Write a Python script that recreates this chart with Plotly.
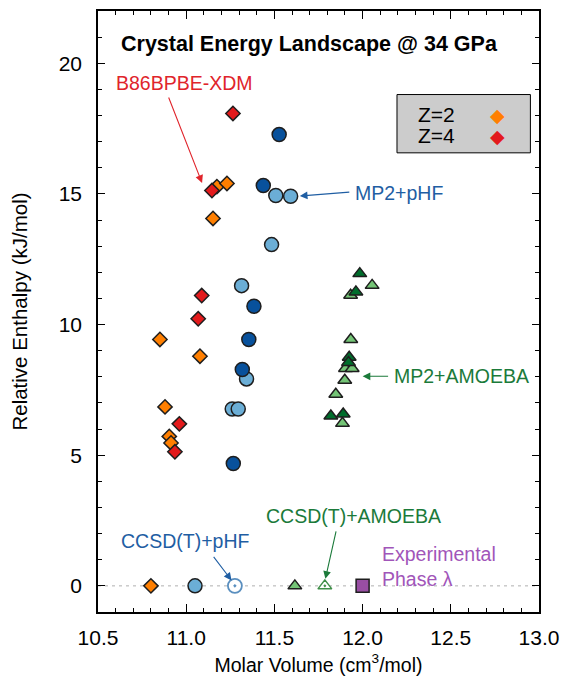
import plotly.graph_objects as go

# ---- B86BPBE-XDM (diamonds) ----
xdm_z2_vol = [10.80, 10.851, 11.078, 10.880, 10.904, 10.914, 11.152, 11.174, 11.231]
xdm_z2_h = [0.0, 9.43, 8.79, 6.85, 5.72, 5.47, 14.06, 15.28, 15.40]
xdm_z4_vol = [11.146, 11.265, 11.088, 11.068, 10.961, 10.936]
xdm_z4_h = [15.13, 18.08, 11.11, 10.22, 6.20, 5.13]

# ---- MP2+pHF (circles) ----
pHF_z4_vol = [11.527, 11.437, 11.384, 11.355, 11.318, 11.267]
pHF_z4_h = [17.27, 15.32, 10.70, 9.43, 8.28, 4.68]
pHF_z2_vol = [11.508, 11.592, 11.484, 11.314, 11.342, 11.261, 11.295, 11.050]
pHF_z2_h = [14.94, 14.91, 13.06, 11.49, 7.92, 6.77, 6.77, 0.0]

# ---- MP2+AMOEBA (triangles) ----
amo_z4_vol = [11.984, 11.962, 11.924, 11.920, 11.820, 11.890]
amo_z4_h = [11.95, 11.25, 8.75, 8.55, 6.50, 6.58]
amo_z2_vol = [12.054, 11.932, 11.933, 11.903, 11.941, 11.899, 11.848, 11.886, 11.616]
amo_z2_h = [11.50, 11.12, 9.43, 8.32, 8.32, 7.87, 7.33, 6.22, 0.0]

# ---- CCSD(T) references and experiment ----
ccsd_phf_vol, ccsd_phf_h = [11.276], [0.0]
ccsd_amo_vol, ccsd_amo_h = [11.786], [0.0]
expt_vol, expt_h = [12.0], [0.0]

x_range = [10.5, 13.0]
y_range = [-1, 22]

FONT = "Liberation Sans, Arial, Helvetica, sans-serif"
ORANGE = "#ff7f00"
RED = "#e31a1c"
DBLUE = "#08519c"
LBLUE = "#6baed6"
DGREEN = "#006d2c"
LGREEN = "#74c476"
PURPLE = "#984ea3"
EDGE = "#1e1e1e"

fig = go.Figure()


def add(xs, ys, symbol, size, color, edge=EDGE, width=1.5):
    fig.add_trace(go.Scatter(
        x=xs, y=ys, mode="markers", showlegend=False, hoverinfo="skip",
        marker=dict(symbol=symbol, size=size, color=color,
                    line=dict(color=edge, width=width)),
    ))


add(xdm_z2_vol, xdm_z2_h, "diamond", 11, ORANGE)
add(xdm_z4_vol, xdm_z4_h, "diamond", 11, RED)
add(pHF_z2_vol, pHF_z2_h, "circle", 14, LBLUE)
add(pHF_z4_vol, pHF_z4_h, "circle", 14, DBLUE)
add(amo_z2_vol, amo_z2_h, "triangle-up", 12, LGREEN)
add(amo_z4_vol, amo_z4_h, "triangle-up", 12, DGREEN)
add(ccsd_phf_vol, ccsd_phf_h, "circle-dot", 14, "white", edge="#5a8fbf", width=1.8)
add(ccsd_amo_vol, ccsd_amo_h, "triangle-up-dot", 12, "white", edge="#3f8f48", width=1.5)
add(expt_vol, expt_h, "square", 13, PURPLE)

# dashed reference line at zero enthalpy
fig.add_shape(type="line", xref="paper", x0=0, x1=1, yref="y", y0=0, y1=0,
              line=dict(color="#b0b0b0", width=1, dash="3px,4px"), layer="below")

ann = []
TXT = 19.5


def arrow(x, y, ax, ay, color):
    ann.append(dict(x=x, y=y, ax=ax, ay=ay, xref="x", yref="y", text="",
                    showarrow=True, arrowhead=2, arrowsize=1.4, arrowwidth=1.1,
                    arrowcolor=color))


def label(x, y, text, color, xanchor="center", size=TXT):
    ann.append(dict(x=x, y=y, xref="x", yref="y", text=text, showarrow=False,
                    xanchor=xanchor, yanchor="middle",
                    font=dict(family=FONT, size=size, color=color)))


label(10.993, 19.24, "B86BPBE-XDM", "#e0242b")
arrow(11.09, 15.42, -34, -87, "#e0242b")

label(11.946, 15.04, "MP2+pHF", "#1f5ea3", xanchor="left")
arrow(11.644, 14.92, 51, -4, "#1f5ea3")

label(12.164, 8.02, "MP2+AMOEBA", "#1b7a3a", xanchor="left")
arrow(12.0, 8.02, 27, 0, "#1b7a3a")

label(10.993, 1.71, "CCSD(T)+pHF", "#1f5ea3")
arrow(11.257, 0.21, -19, -25, "#1f5ea3")

label(11.946, 2.69, "CCSD(T)+AMOEBA", "#1b7a3a")
arrow(11.789, 0.27, 11, -49, "#1b7a3a")

ann.append(dict(x=12.098, y=0.74, xref="x", yref="y",
                text="Experimental<br>Phase λ", showarrow=False,
                xanchor="left", yanchor="middle", align="left",
                font=dict(family=FONT, size=TXT, color="#a155b9")))

# title inside the frame
ann.append(dict(x=0.48, y=0.945, xref="paper", yref="paper",
                text="<b>Crystal Energy Landscape @ 34 GPa</b>", showarrow=False,
                xanchor="center", yanchor="middle",
                font=dict(family=FONT, size=21.5, color="black")))

# key box for the Z values
fig.add_shape(type="rect", xref="paper", yref="paper",
              x0=0.678, x1=0.9805, y0=0.764, y1=0.861,
              fillcolor="#cccccc", line=dict(color="black", width=1))
for yy, lab, col in [(0.8277, "Z=2", ORANGE), (0.7927, "Z=4", RED)]:
    ann.append(dict(x=0.722, y=yy, xref="paper", yref="paper", text=lab,
                    showarrow=False, xanchor="left", yanchor="middle",
                    font=dict(family=FONT, size=21, color="black")))
    ann.append(dict(x=0.905, y=yy, xref="paper", yref="paper", text="◆",
                    showarrow=False, xanchor="center", yanchor="middle",
                    font=dict(family="DejaVu Sans", size=19, color=col)))

axis_common = dict(
    showline=True, linecolor="black", linewidth=1.5, mirror="ticks",
    ticks="inside", tickcolor="black", tickwidth=1,
    showgrid=False, zeroline=False, automargin=False,
    tickfont=dict(family=FONT, size=21, color="black"),
)

fig.update_xaxes(range=x_range, dtick=0.5, tick0=10.5, ticklen=8,
                 tickformat=".1f", ticklabelstandoff=6,
                 minor=dict(ticks="inside", dtick=0.1, ticklen=4,
                            tickcolor="black", showgrid=False),
                 title=dict(text="Molar Volume (cm<sup>3</sup>/mol)",
                            font=dict(family=FONT, size=19.5, color="black"),
                            standoff=10),
                 **axis_common)
fig.update_yaxes(range=y_range, dtick=5, tick0=0, ticklen=7,
                 ticklabelstandoff=10,
                 minor=dict(ticks="inside", dtick=1, ticklen=4,
                            tickcolor="black", showgrid=False),
                 title=dict(text="Relative Enthalpy (kJ/mol)",
                            font=dict(family=FONT, size=20.5, color="black"),
                            standoff=26),
                 **axis_common)

fig.update_layout(
    width=563, height=681,
    margin=dict(l=98, r=24, t=11, b=69),
    plot_bgcolor="white", paper_bgcolor="white",
    annotations=ann, showlegend=False,
)

fig.write_html("out.html")
